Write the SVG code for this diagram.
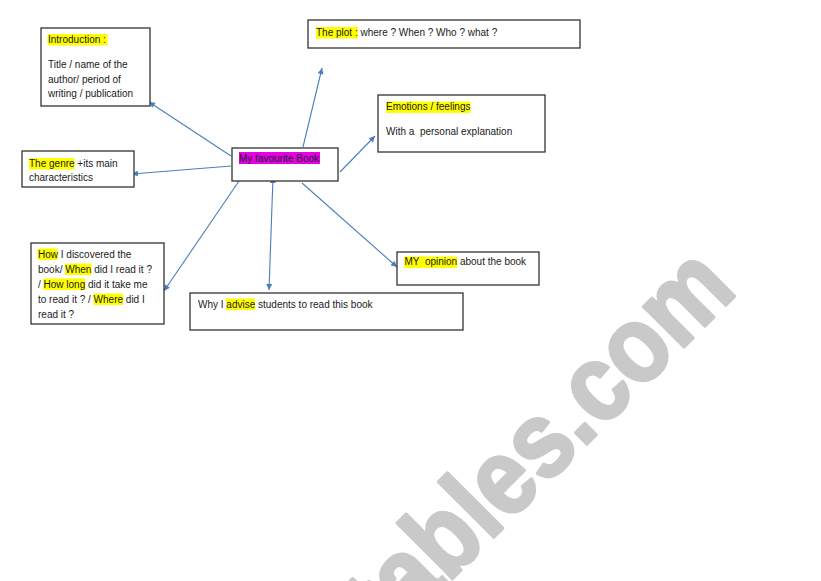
<svg xmlns="http://www.w3.org/2000/svg" width="821" height="581" viewBox="0 0 821 581">
<defs>
<marker id="ah" viewBox="0 0 10 10" refX="10" refY="5" markerWidth="7" markerHeight="6" markerUnits="userSpaceOnUse" orient="auto-start-reverse">
<path d="M0,0 L10,5 L0,10 z" fill="#4a7ebb"/>
</marker>
<style>
.box{fill:#fff;stroke:#333;stroke-width:1.3}
.t{font-family:"Liberation Sans",Arial,sans-serif;font-size:10px;fill:#1a1a1a;white-space:pre}
.hl{fill:#ffff00}
.hm{fill:#e600e6}
.c{fill:none;stroke:#4a7ebb;stroke-width:1.1;marker-end:url(#ah)}
.wm{font-family:"Liberation Sans",Arial,sans-serif;font-weight:bold;font-size:100px;fill:#c9c9c9;stroke:#c9c9c9;stroke-width:3;stroke-linejoin:round}
</style>
</defs>
<rect width="821" height="581" fill="#fff"/>
<text class="wm" x="0" y="0" text-anchor="end" transform="translate(739 292) rotate(-45) scale(0.95 1.08)">tables.com</text>

<g id="connectors">
<line class="c" x1="231" y1="156" x2="149" y2="102"/>
<line class="c" x1="303" y1="147" x2="322" y2="68"/>
<line class="c" x1="231" y1="166" x2="132" y2="174"/>
<line class="c" x1="340" y1="172" x2="375" y2="136"/>
<line class="c" x1="239" y1="181" x2="164" y2="291"/>
<line class="c" x1="273" y1="177" x2="269" y2="290" style="marker-start:url(#ah)"/>
<line class="c" x1="302" y1="183" x2="397" y2="267"/>
</g>

<g id="center">
<rect class="box" x="232" y="148" width="106" height="33"/>
<rect class="hm" x="239" y="152" width="81" height="12"/>
<text class="t" x="239" y="162">My favourite Book</text>
</g>

<g id="introduction">
<rect class="box" x="41" y="28" width="109" height="78"/>
<rect class="hl" x="47.5" y="34" width="60" height="11.5"/>
<text class="t" x="48" y="43">Introduction :</text>
<text class="t" x="48" y="68">Title / name of the</text>
<text class="t" x="48" y="82.5">author/ period of</text>
<text class="t" x="48" y="97">writing / publication</text>
</g>

<g id="genre">
<rect class="box" x="22" y="151" width="112" height="36"/>
<rect class="hl" x="29" y="158" width="45.5" height="11.5"/>
<text class="t" x="29" y="167">The genre +its main</text>
<text class="t" x="29" y="181">characteristics</text>
</g>

<g id="plot">
<rect class="box" x="308" y="20" width="272" height="28"/>
<rect class="hl" x="316" y="27" width="42" height="11.5"/>
<text class="t" x="316" y="35.5">The plot : where ? When ? Who ? what ?</text>
</g>

<g id="emotions">
<rect class="box" x="378" y="95" width="167" height="57"/>
<rect class="hl" x="386" y="101.5" width="84.5" height="11.5"/>
<text class="t" x="386" y="110">Emotions / feelings</text>
<text class="t" x="386" y="135">With a  personal explanation</text>
</g>

<g id="how">
<rect class="box" x="31" y="243" width="133" height="81"/>
<rect class="hl" x="37.5" y="248.5" width="20" height="11.5"/>
<rect class="hl" x="65" y="263.5" width="26.5" height="11.5"/>
<rect class="hl" x="43.3" y="278.5" width="42" height="11.5"/>
<rect class="hl" x="93.3" y="293.5" width="29.8" height="11.5"/>
<text class="t" x="38" y="257.5">How I discovered the</text>
<text class="t" x="38" y="272.5">book/ When did I read it ?</text>
<text class="t" x="38" y="287.5">/ How long did it take me</text>
<text class="t" x="38" y="302.5">to read it ? / Where did I</text>
<text class="t" x="38" y="317.5">read it ?</text>
</g>

<g id="advise">
<rect class="box" x="190" y="293" width="273" height="37"/>
<rect class="hl" x="226" y="298.5" width="29" height="11.5"/>
<text class="t" x="198" y="307.5">Why I advise students to read this book</text>
</g>

<g id="opinion">
<rect class="box" x="397" y="252" width="142" height="33"/>
<rect class="hl" x="404" y="256.5" width="53" height="11.5"/>
<text class="t" x="404.5" y="265">MY  opinion about the book</text>
</g>
</svg>
